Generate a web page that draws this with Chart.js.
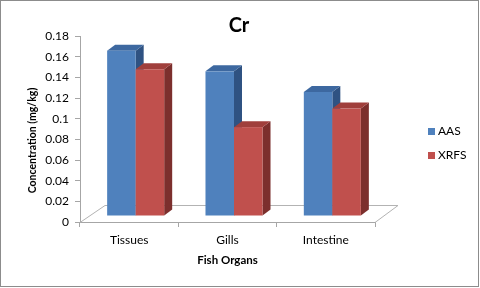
<!DOCTYPE html>
<html>
<head>
<meta charset="utf-8">
<script src="https://cdn.jsdelivr.net/npm/chart.js@4/dist/chart.umd.min.js"></script>
<style>
  html, body { margin: 0; padding: 0; background: #ffffff; }
  canvas { display: block; }
</style>
</head>
<body>
<canvas id="crChart" width="480" height="288"></canvas>
<script>
// data
const organs = ["Tissues", "Gills", "Intestine"];
const aasValues = [0.16, 0.14, 0.12];
const xrfsValues = [0.142, 0.086, 0.104];
const yTicksMax = 0.18;
const yTickStep = 0.02;

const FONT = "Lato, 'Open Sans', sans-serif";

// colours for each face of the 3d columns
const faces = {
  AAS: { front: "#4f81bd", top: "#3d68a0", side: "#2f5282" },
  XRFS: { front: "#c0504d", top: "#a03f3c", side: "#7c2f2d" },
};

const frontShift = { dx: 6.5, dy: -6 }; // where the columns stand on the floor
const boxDepth = { dx: 8, dy: -6 }; // depth of one column
const floorDepth = { dx: 25, dy: -17 };

// floor drawn behind the columns
const floorPlugin = {
  id: "floor",
  beforeDatasetsDraw(chart) {
    const { ctx, chartArea } = chart;
    const { left, right, bottom } = chartArea;
    ctx.save();
    ctx.strokeStyle = "#b3b3b3";
    ctx.lineWidth = 1;
    ctx.beginPath();
    ctx.moveTo(left, bottom + 0.5);
    ctx.lineTo(left + floorDepth.dx, bottom + floorDepth.dy + 0.5);
    ctx.lineTo(right + floorDepth.dx - 2, bottom + floorDepth.dy + 0.5);
    ctx.lineTo(right, bottom + 0.5);
    ctx.stroke();
    ctx.restore();
  },
};

function fillPoly(ctx, pts, color) {
  ctx.fillStyle = color;
  ctx.beginPath();
  ctx.moveTo(pts[0][0], pts[0][1]);
  for (let i = 1; i < pts.length; i++) ctx.lineTo(pts[i][0], pts[i][1]);
  ctx.closePath();
  ctx.fill();
}

// 3d columns built on the bar elements Chart.js laid out
const columnsPlugin = {
  id: "columns3d",
  afterDatasetsDraw(chart) {
    const ctx = chart.ctx;
    ctx.save();
    chart.data.labels.forEach((_, i) => {
      chart.data.datasets.forEach((ds, d) => {
        const bar = chart.getDatasetMeta(d).data[i];
        const { x, y, base, width } = bar.getProps(["x", "y", "base", "width"], true);
        const c = faces[ds.label];
        const l = x - width / 2 + frontShift.dx;
        const r = x + width / 2 + frontShift.dx;
        const t = y + frontShift.dy;
        const b = base + frontShift.dy;
        const { dx, dy } = boxDepth;
        fillPoly(ctx, [[r, t], [r + dx, t + dy], [r + dx, b + dy], [r, b]], c.side);
        fillPoly(ctx, [[l, t], [l + dx, t + dy], [r + dx, t + dy], [r, t]], c.top);
        ctx.fillStyle = c.front;
        ctx.fillRect(l, t, r - l, b - t);
      });
    });
    ctx.restore();
  },
};

// title, y title, legend and frame
const extrasPlugin = {
  id: "extras",
  beforeDraw(chart) {
    const ctx = chart.ctx;
    ctx.save();
    ctx.fillStyle = "#ffffff";
    ctx.fillRect(0, 0, chart.width, chart.height);
    ctx.restore();
  },
  afterDraw(chart) {
    const ctx = chart.ctx;
    ctx.save();
    // chart title, centred on the whole picture
    ctx.font = "bold 20px " + FONT;
    ctx.fillStyle = "#000000";
    ctx.textAlign = "center";
    ctx.textBaseline = "middle";
    ctx.fillText("Cr", 239, 26);

    // y axis title
    ctx.translate(33, 140.5);
    ctx.rotate(-Math.PI / 2);
    ctx.font = "bold 10.5px " + FONT;
    ctx.fillText("Concentration (mg/kg)", 0, 0);
    ctx.restore();

    // legend
    ctx.save();
    ctx.font = "12px " + FONT;
    ctx.textBaseline = "middle";
    chart.data.datasets.forEach((ds, d) => {
      const cy = 131.5 + d * 24;
      ctx.fillStyle = faces[ds.label].front;
      ctx.fillRect(428, cy - 3.5, 7, 7);
      ctx.fillStyle = "#000000";
      ctx.fillText(ds.label, 438, cy);
    });

    // outer frame
    ctx.strokeStyle = "#8c8c8c";
    ctx.lineWidth = 1;
    ctx.strokeRect(0.5, 0.5, 478, 286);
    ctx.restore();
  },
};

const ctx = document.getElementById("crChart").getContext("2d");

new Chart(ctx, {
  type: "bar",
  data: {
    labels: organs,
    datasets: [
      { label: "AAS", data: aasValues, backgroundColor: "rgba(0,0,0,0)" },
      { label: "XRFS", data: xrfsValues, backgroundColor: "rgba(0,0,0,0)" },
    ],
  },
  plugins: [floorPlugin, columnsPlugin, extrasPlugin],
  options: {
    responsive: false,
    animation: false,
    events: [],
    devicePixelRatio: 1,
    layout: { padding: { top: 36, left: 0, right: 105, bottom: 0 } },
    datasets: {
      bar: { categoryPercentage: 0.58, barPercentage: 1 },
    },
    plugins: {
      legend: { display: false },
      tooltip: { enabled: false },
      title: { display: false },
    },
    scales: {
      x: {
        afterFit(scale) {
          scale.height = 66;
        },
        grid: {
          display: true,
          drawOnChartArea: false,
          tickLength: 5,
          color: "#a6a6a6",
          offset: true,
        },
        border: { display: true, color: "#a6a6a6" },
        ticks: { color: "#000000", font: { size: 12, family: FONT }, padding: 6 },
        title: {
          display: true,
          text: "Fish Organs",
          color: "#000000",
          font: { size: 11.5, weight: "bold", family: FONT },
          padding: { top: 0, bottom: 20.5 },
        },
      },
      y: {
        min: 0,
        max: yTicksMax,
        afterFit(scale) {
          scale.width = 80;
        },
        grid: {
          display: true,
          drawOnChartArea: false,
          tickLength: 5,
          color: "#a6a6a6",
        },
        border: { display: true, color: "#a6a6a6" },
        ticks: {
          stepSize: yTickStep,
          color: "#000000",
          font: { size: 12, family: FONT },
          padding: 6,
          callback: (v) => String(+v.toFixed(2)),
        },
      },
    },
  },
});
</script>
</body>
</html>
